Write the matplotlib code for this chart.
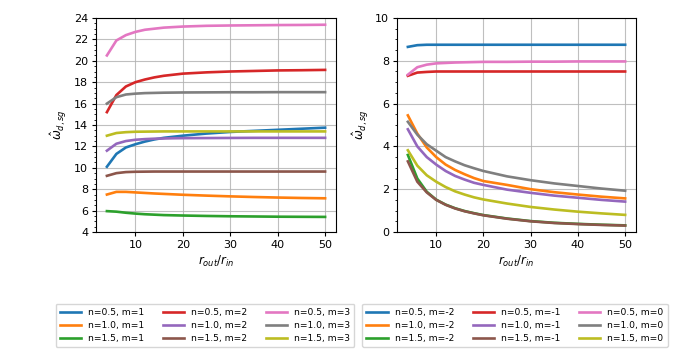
import numpy as np
import matplotlib
matplotlib.use("Agg")
import matplotlib.pyplot as plt
from matplotlib.ticker import AutoMinorLocator

r_ratio = [4, 6, 8, 10, 12, 14, 16, 18, 20, 25, 30, 35, 40, 45, 50]

# Left panel: m = 1, 2, 3
left_series = {
    "n=0.5, m=1": [10.1, 11.3, 11.9, 12.2, 12.45, 12.65, 12.8, 12.9, 13.0, 13.2, 13.35, 13.45, 13.55, 13.65, 13.75],
    "n=1.0, m=1": [7.5, 7.75, 7.75, 7.7, 7.65, 7.6, 7.56, 7.52, 7.48, 7.4, 7.33, 7.27, 7.22, 7.18, 7.15],
    "n=1.5, m=1": [5.95, 5.9, 5.8, 5.72, 5.66, 5.62, 5.58, 5.56, 5.54, 5.5, 5.47, 5.45, 5.43, 5.42, 5.41],
    "n=0.5, m=2": [15.2, 16.8, 17.6, 18.0, 18.25, 18.45, 18.6, 18.7, 18.8, 18.92, 19.0, 19.05, 19.1, 19.12, 19.15],
    "n=1.0, m=2": [11.6, 12.25, 12.5, 12.62, 12.68, 12.72, 12.74, 12.76, 12.77, 12.78, 12.79, 12.8, 12.8, 12.8, 12.8],
    "n=1.5, m=2": [9.25, 9.5, 9.6, 9.63, 9.64, 9.65, 9.65, 9.65, 9.65, 9.65, 9.65, 9.65, 9.65, 9.65, 9.65],
    "n=0.5, m=3": [20.5, 21.9, 22.4, 22.7, 22.9, 23.0, 23.1, 23.15, 23.2, 23.27, 23.3, 23.32, 23.34, 23.35, 23.37],
    "n=1.0, m=3": [16.0, 16.6, 16.85, 16.93, 16.98, 17.0, 17.02, 17.03, 17.04, 17.05, 17.06, 17.06, 17.07, 17.07, 17.07],
    "n=1.5, m=3": [13.0, 13.25, 13.33, 13.37, 13.38, 13.39, 13.4, 13.4, 13.4, 13.4, 13.4, 13.4, 13.4, 13.4, 13.4],
}

# Right panel: m = -2, -1, 0
right_series = {
    "n=0.5, m=-2": [8.65, 8.73, 8.75, 8.75, 8.75, 8.75, 8.75, 8.75, 8.75, 8.75, 8.75, 8.75, 8.75, 8.75, 8.75],
    "n=1.0, m=-2": [5.45, 4.6, 3.95, 3.5, 3.15, 2.9, 2.7, 2.52, 2.38, 2.2, 2.0, 1.86, 1.75, 1.65, 1.57],
    "n=1.5, m=-2": [3.6, 2.5, 1.88, 1.51, 1.28, 1.11, 0.98, 0.88, 0.79, 0.63, 0.51, 0.43, 0.38, 0.34, 0.31],
    "n=0.5, m=-1": [7.3, 7.45, 7.48, 7.5, 7.5, 7.5, 7.5, 7.5, 7.5, 7.5, 7.5, 7.5, 7.5, 7.5, 7.5],
    "n=1.0, m=-1": [4.8, 4.0, 3.5, 3.15, 2.85, 2.62, 2.45, 2.3, 2.2, 1.98, 1.83, 1.7, 1.6, 1.5, 1.42],
    "n=1.5, m=-1": [3.3, 2.35, 1.85, 1.5, 1.27, 1.1, 0.97, 0.87, 0.78, 0.62, 0.5, 0.42, 0.37, 0.33, 0.3],
    "n=0.5, m=0": [7.35, 7.7, 7.82, 7.88, 7.9, 7.92, 7.93, 7.94, 7.95, 7.95, 7.96, 7.96, 7.97, 7.97, 7.97],
    "n=1.0, m=0": [5.15, 4.55, 4.1, 3.8, 3.5, 3.3, 3.12, 2.98, 2.85, 2.6, 2.42, 2.27, 2.15, 2.03, 1.93],
    "n=1.5, m=0": [3.82, 3.1, 2.65, 2.35, 2.1, 1.9, 1.75, 1.62, 1.52, 1.33, 1.17, 1.05, 0.95, 0.87, 0.8],
}

x_ticks = [10, 20, 30, 40, 50]

colors = ["#1f77b4", "#ff7f0e", "#2ca02c", "#d62728", "#9467bd",
          "#8c564b", "#e377c2", "#7f7f7f", "#bcbd22"]

fig = plt.figure(figsize=(6.8, 3.59), dpi=100)
ax1 = fig.add_axes([96/680, 1-232/359, 240/680, 214/359])
ax2 = fig.add_axes([397/680, 1-232/359, 239/680, 214/359])

def draw(ax, series, ylim, yticks, legend_center):
    handles = []
    for (label, vals), c in zip(series.items(), colors):
        h, = ax.plot(r_ratio, vals, color=c, lw=1.9, label=label)
        handles.append(h)
    ax.set_ylim(*ylim)
    ax.set_yticks(yticks)
    ax.set_xticks(x_ticks)
    ax.yaxis.set_minor_locator(AutoMinorLocator())
    ax.grid(True, which="major", color="#b0b0b0", lw=0.8, alpha=0.8)
    ax.set_xlabel(r"$r_{out}/r_{in}$", fontsize=8.5, labelpad=3)
    ax.set_ylabel(r"$\hat{\omega}_{d,sg}$", fontsize=8.5)
    ax.tick_params(labelsize=8, length=2.8, pad=2.8)
    ax.tick_params(which="minor", length=1.6)
    for s in ax.spines.values():
        s.set_linewidth(0.8)
    fig.legend(handles=handles, loc="upper center", ncol=3, fontsize=6.6,
               bbox_to_anchor=(legend_center/680, 1-299/359),
               handlelength=2.3, columnspacing=2.0, labelspacing=0.45,
               borderpad=0.45)

draw(ax1, left_series, (4, 24), np.arange(4, 25, 2), 205)
draw(ax2, right_series, (0, 10), np.arange(0, 11, 2), 515)

fig.savefig("out.png", dpi=100)
